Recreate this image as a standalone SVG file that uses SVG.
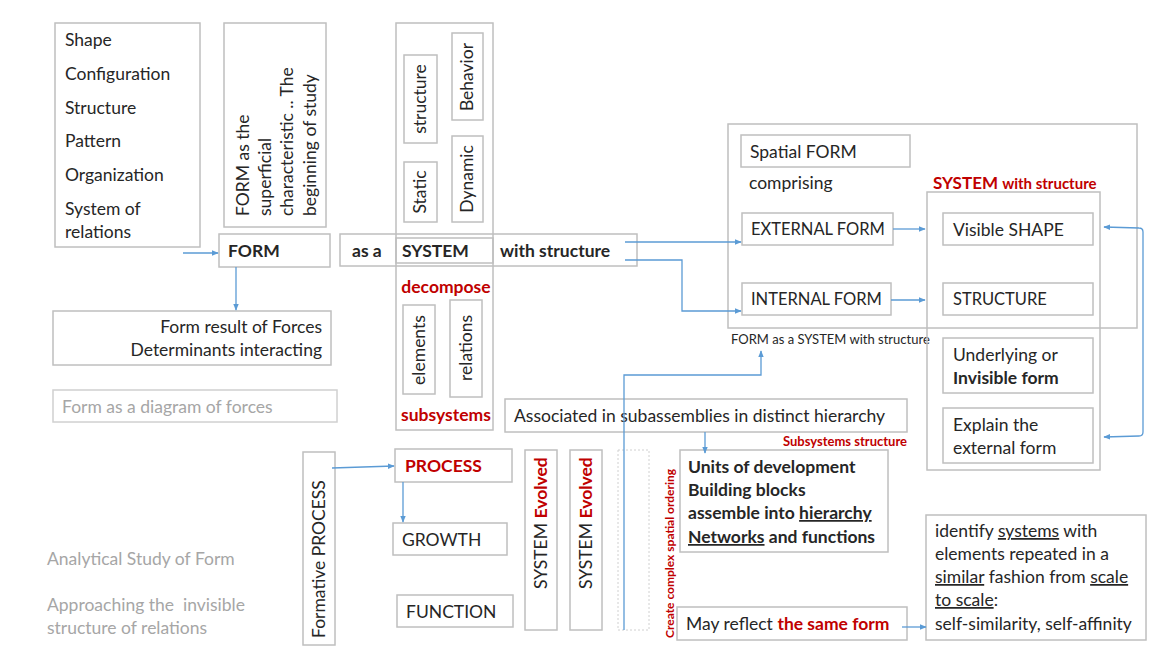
<svg xmlns="http://www.w3.org/2000/svg" width="1153" height="651" viewBox="0 0 1153 651">
<style>
text{font-family:Lato,"Liberation Sans",sans-serif;font-size:17.5px;fill:#262626}
.b{font-weight:bold}
.r{fill:#c00000;font-weight:bold}
.g{fill:#a6a6a6}
.box{fill:none;stroke:#bfbfbf;stroke-width:1.5}
.lbox{fill:none;stroke:#d0d0d0;stroke-width:1.5}
.dash{fill:none;stroke:#d0d0d0;stroke-width:1;stroke-dasharray:2 2}
.c{fill:none;stroke:#5b9bd5;stroke-width:1.3}
.u{text-decoration:underline}
.s{font-size:13px}
.cap{font-size:16.5px}
</style>
<defs>
<marker id="ah" viewBox="0 0 10 10" refX="9" refY="5" markerWidth="7" markerHeight="7" orient="auto-start-reverse" markerUnits="userSpaceOnUse">
<path d="M0,1 L10,5 L0,9 z" fill="#5b9bd5"/>
</marker>
</defs>
<rect width="1153" height="651" fill="#fff"/>

<g id="list">
<rect class="box" x="55" y="23" width="145" height="224"/>
<text x="65" y="46">Shape</text>
<text x="65" y="80">Configuration</text>
<text x="65" y="114">Structure</text>
<text x="65" y="147">Pattern</text>
<text x="65" y="181">Organization</text>
<text x="65" y="215">System of</text>
<text x="65" y="238">relations</text>
</g>

<g id="superficial">
<rect class="box" x="224" y="23" width="102" height="204"/>
<text transform="translate(249,216) rotate(-90)">FORM as the</text>
<text transform="translate(271,216) rotate(-90)">superficial</text>
<text transform="translate(293,216) rotate(-90)">characteristic .. The</text>
<text transform="translate(316,216) rotate(-90)">beginning of study</text>
</g>

<g id="form">
<rect class="box" x="219" y="234" width="111" height="33"/>
<text class="b" x="228" y="257">FORM</text>
</g>

<g id="system-row">
<rect class="box" x="340" y="234" width="297" height="32"/>
<text class="b" x="352" y="257">as a</text>
<rect class="box" x="396" y="238" width="97" height="25"/>
<text class="b" x="402" y="257">SYSTEM</text>
<text class="b" x="500" y="257">with structure</text>
</g>

<g id="system-column">
<rect class="box" x="396" y="23" width="97" height="407"/>
<rect class="box" x="404" y="55" width="33" height="88"/>
<text text-anchor="middle" transform="translate(426,99) rotate(-90)">structure</text>
<rect class="box" x="452" y="33" width="31" height="87"/>
<text text-anchor="middle" transform="translate(473,77) rotate(-90)">Behavior</text>
<rect class="box" x="404" y="162" width="33" height="60"/>
<text text-anchor="middle" transform="translate(426,192) rotate(-90)">Static</text>
<rect class="box" x="452" y="136" width="31" height="86"/>
<text text-anchor="middle" transform="translate(473,179) rotate(-90)">Dynamic</text>
<text class="r" x="446" y="293" text-anchor="middle">decompose</text>
<rect class="box" x="403" y="305" width="32" height="89"/>
<text text-anchor="middle" transform="translate(425,350) rotate(-90)">elements</text>
<rect class="box" x="450" y="300" width="32" height="97"/>
<text text-anchor="middle" transform="translate(472,348) rotate(-90)">relations</text>
<text class="r" x="446" y="421" text-anchor="middle">subsystems</text>
</g>

<g id="spatial">
<rect class="box" x="728" y="124" width="409" height="204"/>
<rect class="box" x="741" y="135" width="169" height="32"/>
<text x="750" y="158">Spatial FORM</text>
<text x="749" y="189">comprising</text>
<rect class="box" x="742" y="213" width="151" height="32"/>
<text class="cap" x="751" y="235">EXTERNAL FORM</text>
<rect class="box" x="742" y="283" width="149" height="32"/>
<text class="cap" x="751" y="305">INTERNAL FORM</text>
<text class="s" x="731" y="344">FORM as a SYSTEM with structure</text>
</g>

<g id="system-structure">
<text class="r" x="933" y="189" style="font-size:17px">SYSTEM <tspan style="font-size:15px">with structure</tspan></text>
<rect class="box" x="927" y="192" width="173" height="278"/>
<rect class="box" x="943" y="213" width="150" height="32"/>
<text x="953" y="236">Visible SHAPE</text>
<rect class="box" x="943" y="283" width="150" height="32"/>
<text class="cap" x="953" y="305">STRUCTURE</text>
<rect class="box" x="943" y="338" width="150" height="55"/>
<text x="953" y="361">Underlying or</text>
<text class="b" x="953" y="384">Invisible form</text>
<rect class="box" x="943" y="408" width="150" height="55"/>
<text x="953" y="431">Explain the</text>
<text x="953" y="454">external form</text>
</g>

<g id="forces">
<rect class="box" x="53" y="311" width="278" height="54"/>
<text x="322" y="333" text-anchor="end">Form result of Forces</text>
<text x="322" y="356" text-anchor="end">Determinants interacting</text>
</g>

<g id="diagram-forces">
<rect class="lbox" x="53" y="390" width="284" height="32"/>
<text class="g" x="62" y="413">Form as a diagram of forces</text>
</g>

<g id="associated">
<rect class="box" x="505" y="399" width="402" height="33"/>
<text x="514" y="422">Associated in subassemblies in distinct hierarchy</text>
<text class="r" x="907" y="446" text-anchor="end" style="font-size:13px">Subsystems structure</text>
</g>

<g id="units">
<rect class="box" x="680" y="450" width="208" height="102"/>
<text class="b" x="688" y="473">Units of development</text>
<text class="b" x="688" y="496">Building blocks</text>
<text class="b" x="688" y="519">assemble into <tspan class="u">hierarchy</tspan></text>
<text class="b" x="688" y="543"><tspan class="u">Networks</tspan> and functions</text>
</g>

<g id="spatial-ordering">
<text class="r" transform="translate(674,638) rotate(-90)" style="font-size:12px">Create complex spatial ordering</text>
</g>

<g id="same-form">
<rect class="box" x="677" y="607" width="230" height="33"/>
<text x="686" y="630">May reflect <tspan class="r">the same form</tspan></text>
</g>

<g id="evolved1">
<rect class="box" x="525" y="450" width="32" height="180"/>
<text transform="translate(547,589) rotate(-90)">SYSTEM <tspan class="r">Evolved</tspan></text>
</g>
<g id="evolved2">
<rect class="box" x="570" y="450" width="32" height="180"/>
<text transform="translate(592,589) rotate(-90)">SYSTEM <tspan class="r">Evolved</tspan></text>
</g>
<g id="dashed">
<rect class="dash" x="618" y="450" width="31" height="180"/>
</g>

<g id="formative">
<rect class="box" x="303" y="452" width="32" height="193"/>
<text transform="translate(325,638) rotate(-90)">Formative PROCESS</text>
</g>
<g id="process">
<rect class="box" x="395" y="449" width="117" height="33"/>
<text class="r" x="405" y="472">PROCESS</text>
</g>
<g id="growth">
<rect class="box" x="393" y="523" width="114" height="32"/>
<text x="402" y="546">GROWTH</text>
</g>
<g id="function">
<rect class="box" x="397" y="595" width="116" height="32"/>
<text x="406" y="618">FUNCTION</text>
</g>

<g id="identify">
<rect class="box" x="926" y="515" width="220" height="125"/>
<text x="935" y="537">identify <tspan class="u">systems</tspan> with</text>
<text x="935" y="560">elements repeated in a</text>
<text x="935" y="583"><tspan class="u">similar</tspan> fashion from <tspan class="u">scale</tspan></text>
<text x="935" y="606"><tspan class="u">to scale</tspan>:</text>
<text x="935" y="630">self-similarity, self-affinity</text>
</g>

<g id="notes">
<text class="g" x="47" y="565">Analytical Study of Form</text>
<text class="g" x="47" y="611" xml:space="preserve">Approaching the  invisible</text>
<text class="g" x="47" y="634">structure of relations</text>
</g>

<g id="connectors">
<line class="c" x1="183" y1="253" x2="218" y2="253" marker-end="url(#ah)"/>
<line class="c" x1="236" y1="267" x2="236" y2="310" marker-end="url(#ah)"/>
<path class="c" d="M625,242 L741,242" marker-end="url(#ah)"/>
<path class="c" d="M625,260 L682,260 L682,311 L741,311" marker-end="url(#ah)"/>
<line class="c" x1="893" y1="229" x2="925" y2="229" marker-end="url(#ah)"/>
<line class="c" x1="891" y1="300" x2="925" y2="300" marker-end="url(#ah)"/>
<path class="c" d="M1104,227 L1139,228 Q1143,228 1143,232 L1143,432 Q1143,436 1139,436 L1104,437" marker-start="url(#ah)" marker-end="url(#ah)"/>
<line class="c" x1="705" y1="432" x2="705" y2="453" marker-end="url(#ah)"/>
<path class="c" d="M624,630 L624,375 L761,375 L761,351" marker-end="url(#ah)"/>
<line class="c" x1="902" y1="627" x2="926" y2="627" marker-end="url(#ah)"/>
<line class="c" x1="332" y1="468" x2="394" y2="466" marker-end="url(#ah)"/>
<line class="c" x1="403" y1="482" x2="403" y2="522" marker-end="url(#ah)"/>
</g>
</svg>
